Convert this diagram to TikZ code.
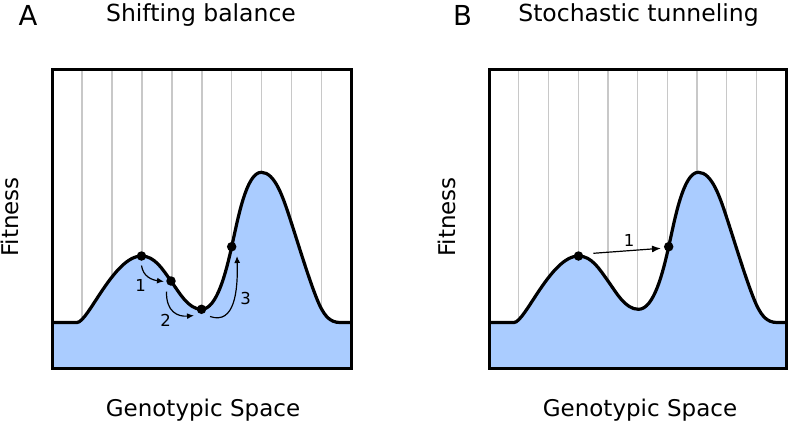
\documentclass[tikz,border=0pt]{standalone}
\usepackage{fontspec}
\setmainfont{DejaVu Sans}
\usetikzlibrary{arrows.meta}
\definecolor{landfill}{RGB}{170,204,255}
\definecolor{gridgray}{RGB}{200,200,200}
\tikzset{
  frame/.style={draw=black,line width=3pt},
  gridline/.style={draw=gridgray,line width=1.3pt},
  landline/.style={draw=black,line width=3.2pt,line join=round},
  dot/.style={circle,fill=black,inner sep=0pt,minimum size=9.5pt},
  arr/.style={draw=black,line width=1.2pt,-{Latex[length=7pt,width=6pt]}},
  arrlong/.style={draw=black,line width=1.2pt,-{Latex[length=9pt,width=7pt]}},
  steplabel/.style={font=\fontsize{16.5}{18}\selectfont,inner sep=0pt},
  axislabel/.style={font=\fontsize{23}{27}\selectfont,inner sep=0pt},
  paneltitle/.style={font=\fontsize{23.5}{28}\selectfont,inner sep=0pt,anchor=base},
  panelletter/.style={font=\fontsize{27.5}{32}\selectfont,inner sep=0pt,anchor=base},
}
% #1 prefix, #2 right edge of box (local)
\newcommand\landpath[2]{(52,322.5) -- (77,322.5)
  .. controls (88,322.5) and (114,256) .. (141.5,256) coordinate (#1p1)
  .. controls (155,256) and (163,270) .. (171,281) coordinate (#1p2)
  .. controls (179,292) and (188,309.3) .. (201.5,309.3) coordinate (#1p3)
  .. controls (217,309.3) and (226,272) .. (231.7,246.7) coordinate (#1p4)
  .. controls (237.5,221) and (246,172.3) .. (261.3,172.3)
  .. controls (275,172.3) and (283,197) .. (291,221.7)
  .. controls (298,243) and (313,293) .. (321,308)
  .. controls (325,315.5) and (330,322.5) .. (340,322.5) -- (#2,322.5)}
\newcommand\fitlandscape[2]{%
  \foreach \k in {1,...,9}{
    \draw[gridline] ({52+\k*(#2-52)/10},69.5) -- ({52+\k*(#2-52)/10},368);
  }
  \fill[landfill] \landpath{#1}{#2} -- (#2,368) -- (52,368) -- cycle;
  \draw[landline] \landpath{#1}{#2};
  \draw[frame] (52,69.5) rectangle (#2,368);
}
\begin{document}
\begin{tikzpicture}[x=1pt,y=-1pt]
\useasboundingbox (0,0) rectangle (790,424);
% ---------- Panel A ----------
\begin{scope}
  \fitlandscape{A}{351.7}
  \node[dot] (Ad1) at (Ap1) {};
  \node[dot] (Ad2) at (Ap2) {};
  \node[dot] (Ad3) at (Ap3) {};
  \node[dot] (Ad4) at (Ap4) {};
  \coordinate (a1s) at (141.5,265.5);
  \coordinate (a1e) at (164,281.5);
  \coordinate (a2s) at (166.5,291.5);
  \coordinate (a2e) at (194,315.5);
  \coordinate (a3s) at (210,316.5);
  \coordinate (a3e) at (237,256);
  \draw[arr] (a1s) .. controls +(1.5,11) and +(-12,-1.5) .. (a1e);
  \draw[arr] (a2s) .. controls +(-0.5,20.5) and +(-16,1.5) .. (a2e);
  \draw[arr] (a3s) .. controls +(25,8.5) and +(1,34) .. (a3e);
  \node[steplabel] (An1) at (140.7,285) {1};
  \node[steplabel] (An2) at (165.7,320) {2};
  \node[steplabel] (An3) at (245.7,298.3) {3};
\end{scope}
\node[panelletter] (Aletter) at (28,25) {A};
\node[paneltitle] (Atitle) at (201,21) {Shifting balance};
\node[axislabel,rotate=90] (Ay) at (9.5,217) {Fitness};
\node[axislabel,anchor=base] (Ax) at (203,416.5) {Genotypic Space};
% ---------- Panel B ----------
\begin{scope}[xshift=437pt]
  \fitlandscape{B}{349.3}
  \node[dot] (Bd1) at (Bp1) {};
  \node[dot] (Bd4) at (Bp4) {};
  \coordinate (b1s) at (156.3,253.3);
  \coordinate (b1e) at (224,248.3);
  \draw[arrlong] (b1s) -- (b1e);
  \node[steplabel] (Bn1) at (192,240) {1};
\end{scope}
\node[panelletter] (Bletter) at (462.5,25) {B};
\node[paneltitle] (Btitle) at (638.5,21) {Stochastic tunneling};
\node[axislabel,rotate=90] (By) at (446.5,217) {Fitness};
\node[axislabel,anchor=base] (Bx) at (640,416.5) {Genotypic Space};
\end{tikzpicture}
\end{document}
